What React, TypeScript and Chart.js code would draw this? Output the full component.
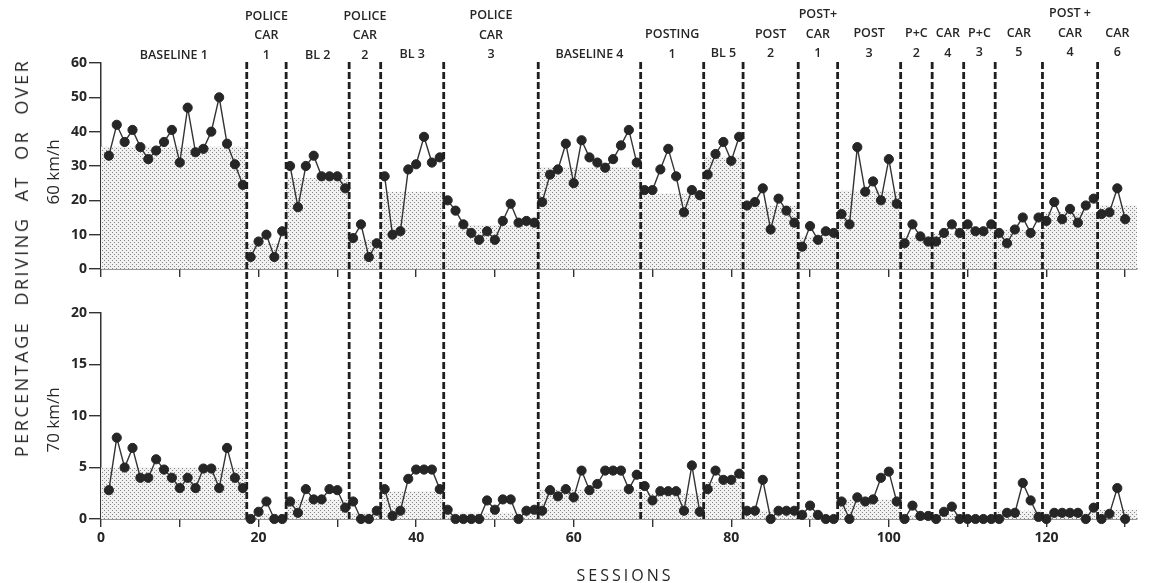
import React, { useEffect, useRef } from 'react';
import { Chart, registerables } from 'chart.js';
Chart.register(...registerables);

// ---------- data ----------
const phaseSizes = [18, 5, 8, 4, 8, 12, 13, 8, 5, 7, 5, 8, 4, 4, 4, 6, 7, 4];
const phaseRow1 = ['', 'POLICE', '', 'POLICE', '', 'POLICE', '', '', '', '', 'POST+', '', '', '', '', '', 'POST +', ''];
const phaseRow2 = ['', 'CAR', '', 'CAR', '', 'CAR', '', 'POSTING', '', 'POST', 'CAR', 'POST', 'P+C', 'CAR', 'P+C', 'CAR', 'CAR', 'CAR'];
const phaseRow3 = ['BASELINE 1', '1', 'BL 2', '2', 'BL 3', '3', 'BASELINE 4', '1', 'BL 5', '2', '1', '3', '2', '4', '3', '5', '4', '6'];

const topValues = [
  33, 42, 37, 40.5, 35.5, 32, 34.5, 37, 40.5, 31, 47, 34, 35, 40, 50, 36.5, 30.5, 24.5,
  3.5, 8, 10, 3.5, 11,
  30, 18, 30, 33, 27, 27, 27, 23.5,
  9, 13, 3.5, 7.5,
  27, 10, 11, 29, 30.5, 38.5, 31, 32.5,
  20, 17, 13, 10.5, 8.5, 11, 8.5, 14, 19, 13.5, 14, 13.5,
  19.5, 27.5, 29, 36.5, 25, 37.5, 32.5, 31, 29.5, 32, 36, 40.5, 31,
  23, 23, 29, 35, 27, 16.5, 23, 21.5,
  27.5, 33.5, 37, 31.5, 38.5,
  18.5, 19.5, 23.5, 11.5, 20.5, 17, 13.5,
  6.5, 12.5, 8.5, 11, 10.5,
  16, 13, 35.5, 22.5, 25.5, 20, 32, 19,
  7.5, 13, 9.5, 8,
  8, 10.5, 13, 10.5,
  13, 11, 11, 13,
  10.5, 7.5, 11.5, 15, 10.5, 15,
  14, 19.5, 14.5, 17.5, 13.5, 18.5, 20.5,
  16, 16.5, 23.5, 14.5,
];

const bottomValues = [
  2.8, 7.9, 5, 6.9, 4, 4, 5.8, 4.8, 4, 3, 4, 3, 4.9, 4.9, 3, 6.9, 4, 3,
  0, 0.7, 1.7, 0, 0,
  1.7, 0.6, 2.9, 1.9, 1.9, 2.9, 2.8, 1.1,
  1.7, 0, 0, 0.8,
  2.9, 0.3, 0.8, 3.9, 4.8, 4.8, 4.8, 2.9,
  0.9, 0, 0, 0, 0, 1.8, 0.9, 1.9, 1.9, 0, 0.8, 0.9,
  0.8, 2.8, 2.2, 2.9, 2.1, 4.7, 2.8, 3.4, 4.7, 4.7, 4.7, 2.9, 4.3,
  3.2, 1.8, 2.7, 2.7, 2.7, 0.8, 5.2, 0.7,
  2.9, 4.7, 3.8, 3.8, 4.4,
  0.8, 0.8, 3.8, 0, 0.8, 0.8, 0.8,
  0.4, 1.3, 0.4, 0, 0,
  1.7, 0, 2.1, 1.7, 1.9, 4, 4.6, 1.7,
  0, 1.3, 0.3, 0.3,
  0, 0.7, 1.2, 0,
  0, 0, 0, 0,
  0, 0.6, 0.6, 3.5, 1.8, 0.2,
  0, 0.6, 0.6, 0.6, 0.6, 0, 1.1,
  0, 0.5, 3, 0,
];

const topMeans = [35.6, 7.5, 26.5, 8.5, 22.5, 12.8, 29.7, 22, 32.7, 18.5, 9.4, 22.8, 9.5, 10.5, 11.5, 11.5, 16.5, 18.6];
const bottomMeans = [5, 0.5, 1.9, 0.6, 2.7, 0.6, 2.9, 2.5, 3.6, 0.8, 0.4, 1.9, 0.4, 0.5, 0.1, 0.8, 0.6, 0.9];

const X_MIN = 0;
const X_MAX = 131.5;
const topYTicks = { min: 0, max: 60, step: 10 };
const bottomYTicks = { min: 0, max: 20, step: 5 };
const xTickStep = 10;
const xLabelEvery = 20;

// ---------- derived ----------
const phaseStarts: number[] = [];
{
  let acc = 0;
  phaseSizes.forEach((s) => {
    phaseStarts.push(acc);
    acc += s;
  });
}
const bounds = phaseSizes.map((_, i) => (i === 0 ? X_MIN : phaseStarts[i] + 0.5));
const boundEnd = (i: number) => (i + 1 < bounds.length ? bounds[i + 1] : X_MAX);

function seriesData(values: number[]) {
  const out: { x: number; y: number | null }[] = [];
  let idx = 0;
  phaseSizes.forEach((size, p) => {
    if (p > 0) out.push({ x: bounds[p], y: null });
    for (let k = 0; k < size; k++) {
      out.push({ x: idx + 1, y: values[idx] });
      idx++;
    }
  });
  return out;
}

function meanData(means: number[]) {
  const out = means.map((m, p) => ({ x: bounds[p], y: m }));
  out.push({ x: X_MAX, y: means[means.length - 1] });
  return out;
}

const INK = '#262626';
const FONT = '"Open Sans", "DejaVu Sans", sans-serif';

function phaseLinePlugin(isTop: boolean) {
  return {
    id: 'phaseLines' + (isTop ? 'Top' : 'Bottom'),
    afterDatasetsDraw(chart: any) {
      const ctx = chart.ctx;
      const xs = chart.scales.x;
      const y0 = isTop ? 62 : 0;
      const y1 = isTop ? chart.height : chart.chartArea.bottom + 2;
      ctx.save();
      ctx.strokeStyle = '#1e1e1e';
      ctx.lineWidth = 2.8;
      ctx.setLineDash([7, 3]);
      ctx.lineDashOffset = isTop ? 0 : 8;
      for (let p = 1; p < phaseSizes.length; p++) {
        const x = xs.getPixelForValue(bounds[p]);
        ctx.beginPath();
        ctx.moveTo(x, y0);
        ctx.lineTo(x, y1);
        ctx.stroke();
      }
      ctx.restore();
    },
  };
}

const phaseLabelPlugin = {
  id: 'phaseLabels',
  afterDraw(chart: any) {
    const ctx = chart.ctx;
    const xs = chart.scales.x;
    ctx.save();
    ctx.font = `600 12.5px ${FONT}`;
    ctx.fillStyle = INK;
    ctx.textAlign = 'center';
    ctx.textBaseline = 'middle';
    const rowsY = [17, 36.5, 56];
    const rows = [phaseRow1, phaseRow2, phaseRow3];
    for (let p = 0; p < phaseSizes.length; p++) {
      const cx = xs.getPixelForValue((bounds[p] + boundEnd(p)) / 2);
      const tilt = (cx - 100) * 0.0035;
      rows.forEach((row, r) => {
        if (row[p]) ctx.fillText(row[p], cx, rowsY[r] - tilt);
      });
    }
    ctx.restore();
  },
};

function makeConfig(isTop: boolean, pattern: any) {
  const values = isTop ? topValues : bottomValues;
  const means = isTop ? topMeans : bottomMeans;
  const yt = isTop ? topYTicks : bottomYTicks;
  return {
    type: 'line',
    data: {
      datasets: [
        {
          label: 'data',
          data: seriesData(values),
          borderColor: '#333',
          borderWidth: 1.4,
          pointRadius: 4.6,
          pointBackgroundColor: INK,
          pointBorderColor: INK,
          pointBorderWidth: 1,
          spanGaps: false,
          fill: false,
          clip: false,
          order: 1,
        },
        {
          label: 'mean',
          data: meanData(means),
          stepped: true,
          borderWidth: 0,
          borderColor: 'rgba(0,0,0,0)',
          pointRadius: 0,
          fill: 'origin',
          backgroundColor: pattern,
          order: 2,
        },
      ],
    },
    options: {
      responsive: true,
      maintainAspectRatio: false,
      animation: false,
      events: [],
      layout: { padding: { top: isTop ? 63 : 23, right: 13, left: 0, bottom: 0 } },
      plugins: { legend: { display: false }, tooltip: { enabled: false } },
      scales: {
        x: {
          type: 'linear',
          min: X_MIN,
          max: X_MAX,
          afterFit: (s: any) => {
            s.height = isTop ? 21 : 64;
          },
          border: { display: true, color: '#333', width: 1.5 },
          grid: { display: true, drawOnChartArea: false, drawTicks: true, tickLength: 8, color: '#333', lineWidth: 1.4 },
          ticks: {
            display: !isTop,
            stepSize: xTickStep,
            includeBounds: false,
            autoSkip: false,
            maxRotation: 0,
            padding: 3,
            color: INK,
            font: { family: FONT, weight: '700', size: 14 },
            callback: (v: any) => (Number(v) % xLabelEvery === 0 ? String(v) : ''),
          },
        },
        y: {
          type: 'linear',
          min: yt.min,
          max: yt.max,
          afterFit: (s: any) => {
            s.width = 101;
          },
          border: { display: true, color: '#333', width: 1.5 },
          grid: { display: true, drawOnChartArea: false, drawTicks: true, tickLength: 12, color: '#333', lineWidth: 1.4 },
          ticks: {
            stepSize: yt.step,
            padding: 2,
            color: INK,
            font: { family: FONT, weight: '700', size: 14 },
          },
        },
      },
    },
    plugins: isTop ? [phaseLinePlugin(true), phaseLabelPlugin] : [phaseLinePlugin(false)],
  };
}

function makePattern(target: HTMLCanvasElement) {
  const pc = document.createElement('canvas');
  pc.width = 4;
  pc.height = 4;
  const g = pc.getContext('2d')!;
  g.fillStyle = '#f1f1f1';
  g.fillRect(0, 0, 4, 4);
  g.fillStyle = '#858585';
  g.fillRect(0, 0, 1, 1);
  g.fillRect(2, 2, 1, 1);
  return target.getContext('2d')!.createPattern(pc, 'repeat');
}

export default function App() {
  const topRef = useRef<HTMLCanvasElement | null>(null);
  const botRef = useRef<HTMLCanvasElement | null>(null);

  useEffect(() => {
    if (!topRef.current || !botRef.current) return;
    const c1 = new Chart(topRef.current, makeConfig(true, makePattern(topRef.current)) as any);
    const c2 = new Chart(botRef.current, makeConfig(false, makePattern(botRef.current)) as any);
    return () => {
      c1.destroy();
      c2.destroy();
    };
  }, []);

  const textBase: React.CSSProperties = {
    position: 'absolute',
    whiteSpace: 'nowrap',
    color: INK,
    fontFamily: FONT,
    transform: 'translate(-50%, -50%)',
    lineHeight: 1,
  };

  return (
    <div style={{ position: 'absolute', left: 0, top: 0, width: 1150, height: 583, background: '#fff', overflow: 'hidden' }}>
      <div style={{ position: 'absolute', left: 0, top: 0, width: 1150, height: 290 }}>
        <canvas ref={topRef} />
      </div>
      <div style={{ position: 'absolute', left: 0, top: 290, width: 1150, height: 293 }}>
        <canvas ref={botRef} />
      </div>
      <div
        style={{
          ...textBase,
          left: 21,
          top: 258,
          fontSize: 18,
          letterSpacing: '2.5px',
          wordSpacing: '8px',
          transform: 'translate(-50%, -50%) rotate(-90deg)',
        }}
      >
        PERCENTAGE DRIVING AT OR OVER
      </div>
      <div style={{ ...textBase, left: 52, top: 172, fontSize: 17, transform: 'translate(-50%, -50%) rotate(-90deg)' }}>
        60 km/h
      </div>
      <div style={{ ...textBase, left: 52, top: 420, fontSize: 17, transform: 'translate(-50%, -50%) rotate(-90deg)' }}>
        70 km/h
      </div>
      <div style={{ ...textBase, left: 625, top: 575, fontSize: 16, letterSpacing: '3px' }}>SESSIONS</div>
    </div>
  );
}
